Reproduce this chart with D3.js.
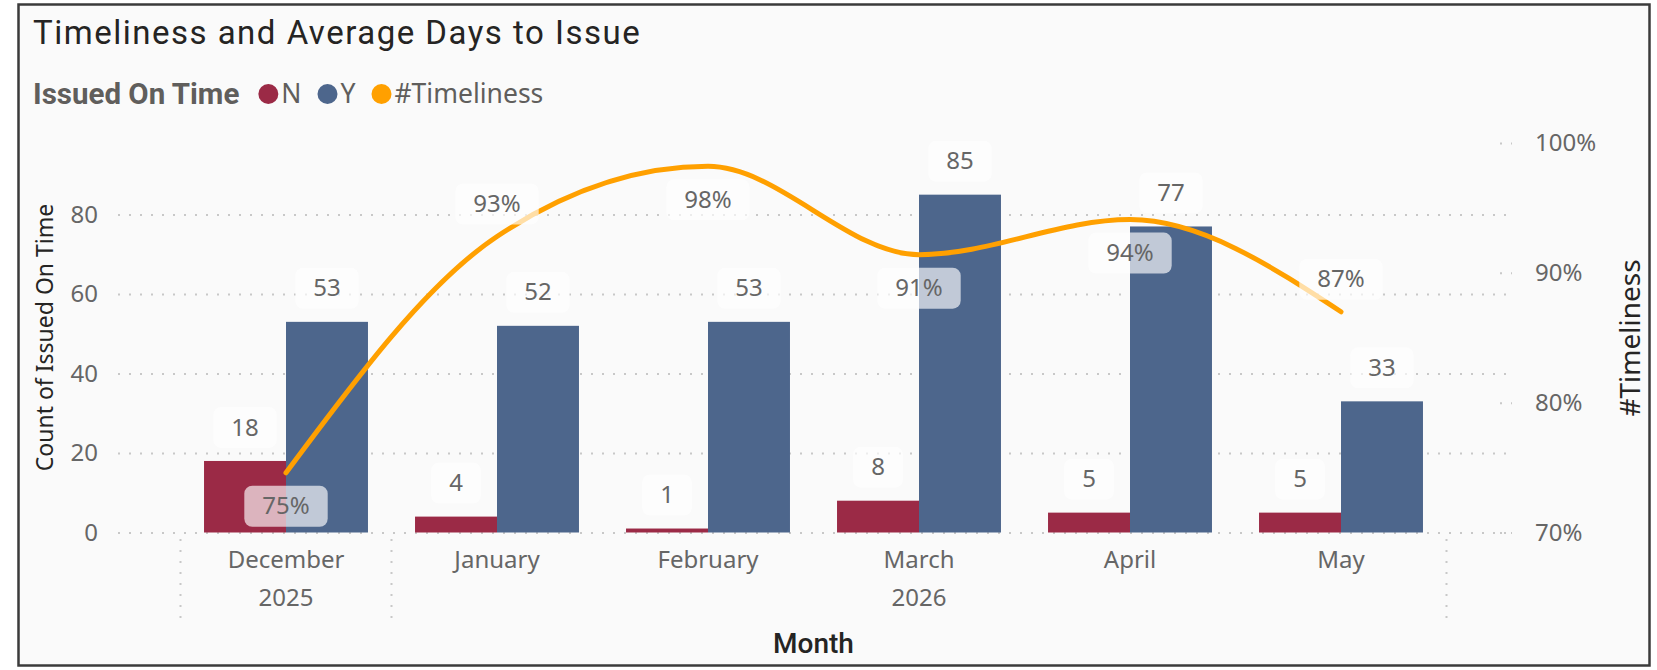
<!DOCTYPE html>
<html>
<head>
<meta charset="utf-8">
<title>Timeliness and Average Days to Issue</title>
<script src="https://cdn.jsdelivr.net/npm/d3@7"></script>
<style>
    body { margin: 0; background: #ffffff; }
    .title { font-family: Roboto, "DejaVu Sans", sans-serif; font-size: 33px; letter-spacing: 1.5px; fill: #252423; }
    .legendTitle { font-family: Roboto, sans-serif; font-weight: bold; font-size: 29.5px; fill: #605e5c; }
    .legendItem { font-family: "Noto Sans", sans-serif; font-size: 26.5px; fill: #605e5c; }
    .tick text, .yearLabel { font-family: "Noto Sans", sans-serif; font-size: 24px; fill: #666666; }
    .axisTitle { font-family: "Noto Sans", sans-serif; font-size: 23px; fill: #252423; }
    .axisTitleRight { font-family: "Noto Sans", sans-serif; font-size: 28px; fill: #252423; }
    .monthTitle { font-family: Roboto, sans-serif; font-weight: 500; font-size: 28px; fill: #252423; }
    .dataLabel { font-family: "Noto Sans", sans-serif; font-size: 24px; fill: #666666; }
</style>
</head>
<body>
<script>
//chart values
var months = ["December", "January", "February", "March", "April", "May"];
var years = ["2025", "2026", "2026", "2026", "2026", "2026"];
var series = ["N", "Y"];
var issuedN = [18, 4, 1, 8, 5, 5];
var issuedY = [53, 52, 53, 85, 77, 33];
var timeliness = [0.746, 0.928, 0.982, 0.914, 0.941, 0.870];
var leftTicks = [0, 20, 40, 60, 80];
var rightTicks = [0.7, 0.8, 0.9, 1.0];
var leftMax = 98;
//which percent labels sit under the line (Power BI auto placement)
var pctLabelBelow = [true, false, true, true, true, false];

var colors = { N: "#9b2a46", Y: "#4d668c", line: "#ffa000" };

window.onload = drawChart;

function drawChart(){

    //svg frame dimensions
    var width = 1657,
        height = 670;

    var plotLeft = 118,
        plotRight = 1506,
        plotTop = 143,
        plotBottom = 532.5;

    var svg = d3.select("body")
        .append("svg")
        .attr("width", width)
        .attr("height", height);

    //card background and border
    svg.append("rect")
        .attr("x", 18.5)
        .attr("y", 4.5)
        .attr("width", 1631)
        .attr("height", 661)
        .attr("fill", "#fafafa")
        .attr("stroke", "#3b3b3b")
        .attr("stroke-width", 2.5);

    svg.append("text")
        .attr("class", "title")
        .attr("x", 33)
        .attr("y", 44)
        .text("Timeliness and Average Days to Issue");

    //legend: bold heading then dot + name for each item
    var legend = svg.append("g").attr("transform", "translate(33,93)");
    var legendHead = legend.append("text")
        .attr("class", "legendTitle")
        .attr("dy", "0.36em")
        .text("Issued On Time");
    var lx = legendHead.node().getComputedTextLength() + 19;
    var legendItems = [
        { name: "N", color: colors.N },
        { name: "Y", color: colors.Y },
        { name: "#Timeliness", color: colors.line }
    ];
    legendItems.forEach(function(item){
        legend.append("circle")
            .attr("cx", lx + 10)
            .attr("cy", 1)
            .attr("r", 10)
            .attr("fill", item.color);
        var t = legend.append("text")
            .attr("class", "legendItem")
            .attr("x", lx + 23)
            .attr("dy", "0.36em")
            .text(item.name);
        lx = lx + 23 + t.node().getComputedTextLength() + 16;
    });

    //scales
    var x = d3.scaleBand()
        .domain(months)
        .range([180.5, 1446.5])
        .paddingInner(0.223)
        .paddingOuter(0.1115);

    var xSeries = d3.scaleBand()
        .domain(series)
        .range([0, x.bandwidth()]);

    var y = d3.scaleLinear()
        .domain([0, leftMax])
        .range([plotBottom, plotTop]);

    var yRight = d3.scaleLinear()
        .domain([0.7, 1.0])
        .range([plotBottom, plotTop]);

    //left axis with dotted gridlines
    var leftAxis = svg.append("g")
        .attr("transform", "translate(" + plotLeft + ",0)")
        .call(d3.axisLeft(y)
            .tickValues(leftTicks)
            .tickSize(-(plotRight - plotLeft))
            .tickPadding(20));
    leftAxis.select(".domain").remove();
    leftAxis.selectAll(".tick line")
        .attr("stroke", "#c8c8c8")
        .attr("stroke-width", 2)
        .attr("stroke-dasharray", "2,9");
    leftAxis.attr("font-family", null).attr("font-size", null);

    //right axis for the percentage line
    var rightAxis = svg.append("g")
        .attr("transform", "translate(1500,0)")
        .call(d3.axisRight(yRight)
            .tickValues(rightTicks)
            .tickFormat(d3.format(".0%"))
            .tickSize(12)
            .tickPadding(23));
    rightAxis.select(".domain").remove();
    rightAxis.selectAll(".tick line")
        .attr("stroke", "#c8c8c8")
        .attr("stroke-width", 2)
        .attr("stroke-dasharray", "2,9");
    rightAxis.attr("font-family", null).attr("font-size", null);

    //clustered bars
    var groups = svg.selectAll(".month")
        .data(months)
        .enter()
        .append("g")
        .attr("class", "month")
        .attr("transform", function(d){
            return "translate(" + x(d) + ",0)";
        });

    groups.selectAll("rect")
        .data(function(d, i){
            return [{ key: "N", value: issuedN[i] }, { key: "Y", value: issuedY[i] }];
        })
        .enter()
        .append("rect")
        .attr("x", function(d){ return xSeries(d.key); })
        .attr("y", function(d){ return y(d.value); })
        .attr("width", xSeries.bandwidth())
        .attr("height", function(d){ return plotBottom - y(d.value); })
        .attr("fill", function(d){ return colors[d.key]; });

    //smoothed timeliness line
    var line = d3.line()
        .x(function(d, i){ return x(months[i]) + x.bandwidth() / 2; })
        .y(function(d){ return yRight(d); })
        .curve(d3.curveMonotoneX);

    svg.append("path")
        .datum(timeliness)
        .attr("d", line)
        .attr("fill", "none")
        .attr("stroke", colors.line)
        .attr("stroke-width", 5)
        .attr("stroke-linecap", "round");

    //data labels sit on a half transparent white box
    function addLabel(cx, cy, txt){
        var g = svg.append("g").attr("transform", "translate(" + cx + "," + cy + ")");
        var box = g.append("rect");
        var t = g.append("text")
            .attr("class", "dataLabel")
            .attr("text-anchor", "middle")
            .attr("dy", "0.36em")
            .text(txt);
        var w = t.node().getComputedTextLength() + 36;
        box.attr("x", -w / 2)
            .attr("y", -20)
            .attr("width", w)
            .attr("height", 41)
            .attr("rx", 8)
            .attr("fill", "#ffffff")
            .attr("fill-opacity", 0.65);
    }

    months.forEach(function(m, i){
        addLabel(x(m) + xSeries("N") + xSeries.bandwidth() / 2, y(issuedN[i]) - 34, issuedN[i]);
        addLabel(x(m) + xSeries("Y") + xSeries.bandwidth() / 2, y(issuedY[i]) - 34, issuedY[i]);
    });

    months.forEach(function(m, i){
        var cy = yRight(timeliness[i]) + (pctLabelBelow[i] ? 33 : -33);
        addLabel(x(m) + x.bandwidth() / 2, cy, d3.format(".0%")(timeliness[i]));
    });

    //month axis (first level of the hierarchy)
    var bottomAxis = svg.append("g")
        .attr("transform", "translate(0," + plotBottom + ")")
        .call(d3.axisBottom(x).tickSize(0).tickPadding(18));
    bottomAxis.select(".domain").remove();
    bottomAxis.attr("font-family", null).attr("font-size", null);

    //year level: group consecutive months of the same year
    var half = x.step() * x.paddingInner() / 2;
    var yearGroups = [];
    years.forEach(function(yr, i){
        var last = yearGroups[yearGroups.length - 1];
        if (last && last.year === yr){
            last.end = i;
        } else {
            yearGroups.push({ year: yr, start: i, end: i });
        }
    });

    var bounds = yearGroups.map(function(g){ return x(months[g.start]) - half; });
    bounds.push(x(months[months.length - 1]) + x.bandwidth() + half);

    svg.selectAll(".yearSep")
        .data(bounds)
        .enter()
        .append("line")
        .attr("class", "yearSep")
        .attr("x1", function(d){ return d; })
        .attr("x2", function(d){ return d; })
        .attr("y1", 539)
        .attr("y2", 618)
        .attr("stroke", "#c8c8c8")
        .attr("stroke-width", 2)
        .attr("stroke-dasharray", "2,9");

    svg.selectAll(".yearLabel")
        .data(yearGroups)
        .enter()
        .append("text")
        .attr("class", "yearLabel")
        .attr("text-anchor", "middle")
        .attr("x", function(g){
            return (x(months[g.start]) + x(months[g.end]) + x.bandwidth()) / 2;
        })
        .attr("y", 597)
        .attr("dy", "0.36em")
        .text(function(g){ return g.year; });

    //axis titles
    svg.append("text")
        .attr("class", "axisTitle")
        .attr("text-anchor", "middle")
        .attr("transform", "translate(45,337.5) rotate(-90)")
        .attr("dy", "0.36em")
        .text("Count of Issued On Time");

    svg.append("text")
        .attr("class", "axisTitleRight")
        .attr("text-anchor", "middle")
        .attr("transform", "translate(1630,338) rotate(-90)")
        .attr("dy", "0.36em")
        .text("#Timeliness");

    svg.append("text")
        .attr("class", "monthTitle")
        .attr("text-anchor", "middle")
        .attr("x", (x.range()[0] + x.range()[1]) / 2)
        .attr("y", 653)
        .text("Month");
};
</script>
</body>
</html>
